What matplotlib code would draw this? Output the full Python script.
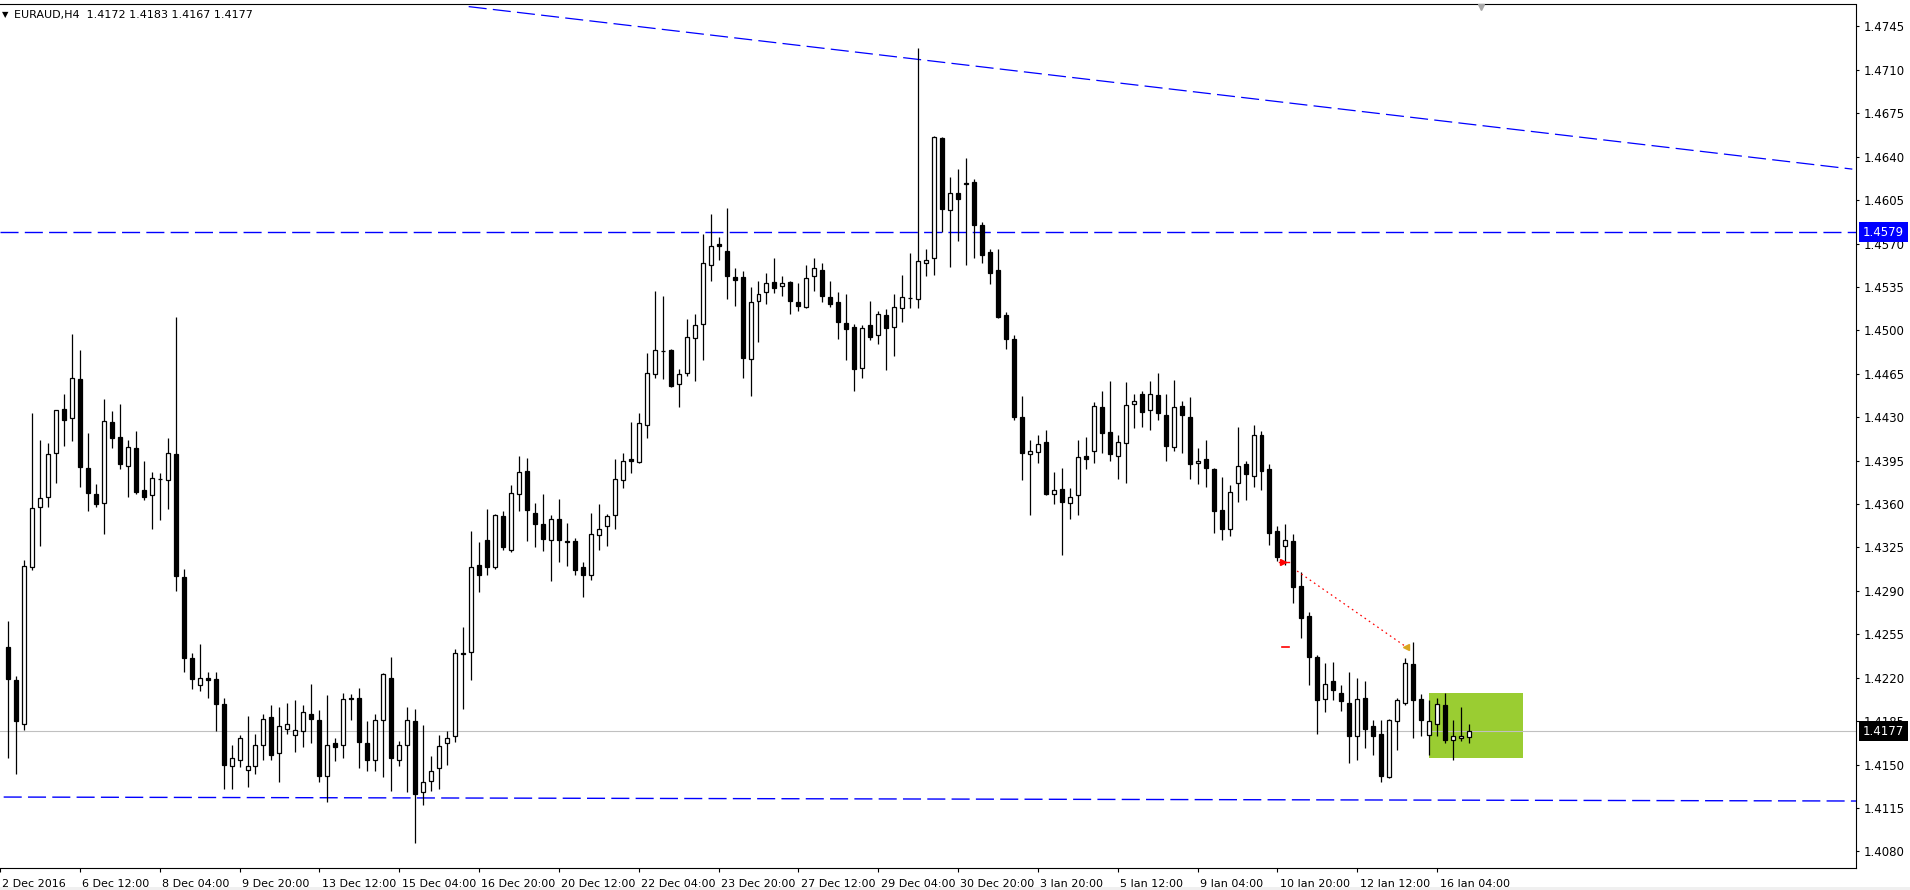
import numpy as np
import matplotlib
matplotlib.use("Agg")
import matplotlib.pyplot as plt
from matplotlib.patches import Rectangle

# EURAUD H4 candles (bar 0 = 5 Dec 00:00)
opens = [1.4245, 1.4218, 1.4183, 1.4309, 1.4358, 1.4366, 1.4401, 1.4437, 1.4429, 1.4461,
         1.4389, 1.4368, 1.4361, 1.4426, 1.4414, 1.4391, 1.4405, 1.4371, 1.4367, 1.4380,
         1.4379, 1.4400, 1.4301, 1.4236, 1.4214, 1.4220, 1.4219, 1.4199, 1.4149, 1.4154,
         1.4146, 1.4149, 1.4166, 1.4188, 1.4159, 1.4179, 1.4174, 1.4177, 1.4191, 1.4186,
         1.4141, 1.4167, 1.4166, 1.4204, 1.4204, 1.4167, 1.4154, 1.4186, 1.4220, 1.4154,
         1.4166, 1.4185, 1.4128, 1.4137, 1.4147, 1.4167, 1.4173, 1.4240, 1.4241, 1.4311,
         1.4331, 1.4309, 1.4350, 1.4323, 1.4368, 1.4387, 1.4353, 1.4344, 1.4331, 1.4348,
         1.4330, 1.4330, 1.4309, 1.4303, 1.4335, 1.4342, 1.4351, 1.4379, 1.4396, 1.4394,
         1.4424, 1.4465, 1.4483, 1.4484, 1.4457, 1.4466, 1.4494, 1.4505, 1.4553, 1.4570,
         1.4564, 1.4543, 1.4543, 1.4477, 1.4524, 1.4531, 1.4539, 1.4536, 1.4539, 1.4523,
         1.4519, 1.4544, 1.4549, 1.4527, 1.4523, 1.4506, 1.4503, 1.4470, 1.4504, 1.4496,
         1.4512, 1.4503, 1.4518, 1.4526, 1.4525, 1.4554, 1.4558, 1.4655, 1.4597, 1.4611,
         1.4619, 1.4620, 1.4585, 1.4563, 1.4549, 1.4512, 1.4493, 1.4430, 1.4400, 1.4402,
         1.4410, 1.4368, 1.4372, 1.4361, 1.4367, 1.4399, 1.4403, 1.4438, 1.4418, 1.4399,
         1.4409, 1.4441, 1.4449, 1.4436, 1.4448, 1.4432, 1.4406, 1.4439, 1.4430, 1.4393,
         1.4396, 1.4388, 1.4355, 1.4340, 1.4377, 1.4392, 1.4383, 1.4416, 1.4388, 1.4338,
         1.4326, 1.4330, 1.4294, 1.4270, 1.4237, 1.4203, 1.4217, 1.4208, 1.4200, 1.4173,
         1.4204, 1.4181, 1.4175, 1.4140, 1.4185, 1.4200, 1.4231, 1.4203, 1.4174, 1.4183,
         1.4198, 1.4170, 1.4171, 1.4172]
highs = [1.4266, 1.4221, 1.4315, 1.4433, 1.4412, 1.4409, 1.4436, 1.4449, 1.4497, 1.4484,
         1.4417, 1.4376, 1.4445, 1.4435, 1.4441, 1.4412, 1.4419, 1.4395, 1.4386, 1.4385,
         1.4413, 1.4511, 1.4308, 1.4240, 1.4247, 1.4225, 1.4225, 1.4204, 1.4166, 1.4174,
         1.4189, 1.4175, 1.4191, 1.4198, 1.4196, 1.4200, 1.4202, 1.4198, 1.4215, 1.4194,
         1.4206, 1.4171, 1.4208, 1.4207, 1.4212, 1.4185, 1.4191, 1.4224, 1.4237, 1.4169,
         1.4196, 1.4195, 1.4182, 1.4157, 1.4174, 1.4177, 1.4243, 1.4261, 1.4338, 1.4329,
         1.4356, 1.4352, 1.4354, 1.4375, 1.4399, 1.4397, 1.4361, 1.4368, 1.4351, 1.4364,
         1.4345, 1.4333, 1.4313, 1.4353, 1.4360, 1.4352, 1.4396, 1.4401, 1.4426, 1.4433,
         1.4482, 1.4532, 1.4528, 1.4485, 1.4469, 1.4509, 1.4513, 1.4578, 1.4594, 1.4575,
         1.4599, 1.4550, 1.4548, 1.4535, 1.4540, 1.4546, 1.4558, 1.4544, 1.4540, 1.4538,
         1.4553, 1.4558, 1.4554, 1.4540, 1.4531, 1.4529, 1.4505, 1.4504, 1.4524, 1.4516,
         1.4517, 1.4529, 1.4545, 1.4562, 1.4728, 1.4566, 1.4657, 1.4656, 1.4624, 1.4630,
         1.4639, 1.4622, 1.4587, 1.4566, 1.4566, 1.4515, 1.4496, 1.4447, 1.4412, 1.4416,
         1.4420, 1.4386, 1.4389, 1.4373, 1.4412, 1.4414, 1.4442, 1.4451, 1.4459, 1.4416,
         1.4458, 1.4449, 1.4451, 1.4459, 1.4466, 1.4449, 1.4460, 1.4443, 1.4446, 1.4405,
         1.4412, 1.4389, 1.4382, 1.4375, 1.4422, 1.4395, 1.4424, 1.4419, 1.4392, 1.4342,
         1.4344, 1.4336, 1.4305, 1.4273, 1.4238, 1.4232, 1.4233, 1.4214, 1.4225, 1.4220,
         1.4217, 1.4186, 1.4186, 1.4187, 1.4204, 1.4236, 1.4249, 1.4207, 1.4202, 1.4204,
         1.4208, 1.4186, 1.4196, 1.4183]
lows = [1.4155, 1.4142, 1.4178, 1.4307, 1.4326, 1.4358, 1.4377, 1.4407, 1.4411, 1.4374,
        1.4354, 1.4358, 1.4336, 1.4405, 1.4388, 1.4366, 1.4368, 1.4363, 1.4340, 1.4347,
        1.4356, 1.4290, 1.4225, 1.4211, 1.4209, 1.4204, 1.4177, 1.4130, 1.4130, 1.4148,
        1.4132, 1.4142, 1.4154, 1.4154, 1.4136, 1.4175, 1.4160, 1.4164, 1.4167, 1.4136,
        1.4120, 1.4153, 1.4155, 1.4186, 1.4147, 1.4145, 1.4145, 1.4140, 1.4129, 1.4149,
        1.4128, 1.4087, 1.4117, 1.4129, 1.4130, 1.4150, 1.4168, 1.4195, 1.4218, 1.4289,
        1.4303, 1.4308, 1.4323, 1.4321, 1.4354, 1.4330, 1.4325, 1.4322, 1.4298, 1.4313,
        1.4310, 1.4303, 1.4285, 1.4299, 1.4323, 1.4326, 1.4340, 1.4373, 1.4385, 1.4393,
        1.4413, 1.4462, 1.4461, 1.4454, 1.4438, 1.4463, 1.4459, 1.4476, 1.4540, 1.4557,
        1.4525, 1.4520, 1.4462, 1.4447, 1.4491, 1.4521, 1.4530, 1.4528, 1.4513, 1.4516,
        1.4518, 1.4532, 1.4523, 1.4519, 1.4493, 1.4476, 1.4451, 1.4462, 1.4492, 1.4489,
        1.4468, 1.4479, 1.4507, 1.4518, 1.4518, 1.4544, 1.4545, 1.4579, 1.4551, 1.4572,
        1.4553, 1.4558, 1.4554, 1.4537, 1.4510, 1.4485, 1.4428, 1.4379, 1.4351, 1.4393,
        1.4367, 1.4360, 1.4319, 1.4348, 1.4351, 1.4388, 1.4393, 1.4401, 1.4395, 1.4380,
        1.4377, 1.4421, 1.4422, 1.4420, 1.4428, 1.4395, 1.4403, 1.4401, 1.4380, 1.4376,
        1.4374, 1.4337, 1.4331, 1.4334, 1.4362, 1.4363, 1.4374, 1.4371, 1.4327, 1.4314,
        1.4311, 1.4280, 1.4252, 1.4214, 1.4175, 1.4192, 1.4202, 1.4193, 1.4151, 1.4154,
        1.4163, 1.4158, 1.4136, 1.4139, 1.4162, 1.4198, 1.4171, 1.4173, 1.4158, 1.4173,
        1.4167, 1.4154, 1.4169, 1.4167]
closes = [1.4219, 1.4185, 1.4310, 1.4357, 1.4365, 1.4400, 1.4436, 1.4428, 1.4462, 1.4390,
          1.4369, 1.4360, 1.4427, 1.4413, 1.4392, 1.4406, 1.4370, 1.4366, 1.4381, 1.4380,
          1.4401, 1.4302, 1.4236, 1.4219, 1.4220, 1.4218, 1.4199, 1.4150, 1.4155, 1.4171,
          1.4149, 1.4166, 1.4187, 1.4158, 1.4181, 1.4183, 1.4178, 1.4192, 1.4187, 1.4141,
          1.4166, 1.4164, 1.4203, 1.4203, 1.4168, 1.4154, 1.4186, 1.4223, 1.4155, 1.4166,
          1.4186, 1.4126, 1.4136, 1.4145, 1.4165, 1.4171, 1.4240, 1.4239, 1.4309, 1.4303,
          1.4309, 1.4351, 1.4325, 1.4369, 1.4386, 1.4355, 1.4344, 1.4332, 1.4348, 1.4331,
          1.4329, 1.4307, 1.4303, 1.4336, 1.4340, 1.4350, 1.4380, 1.4395, 1.4395, 1.4425,
          1.4466, 1.4484, 1.4483, 1.4455, 1.4465, 1.4495, 1.4504, 1.4554, 1.4568, 1.4568,
          1.4544, 1.4541, 1.4478, 1.4523, 1.4529, 1.4538, 1.4534, 1.4538, 1.4524, 1.4520,
          1.4542, 1.4550, 1.4528, 1.4521, 1.4507, 1.4501, 1.4469, 1.4502, 1.4495, 1.4513,
          1.4502, 1.4519, 1.4527, 1.4526, 1.4556, 1.4557, 1.4656, 1.4598, 1.4611, 1.4606,
          1.4618, 1.4585, 1.4561, 1.4546, 1.4511, 1.4493, 1.4430, 1.4401, 1.4403, 1.4408,
          1.4368, 1.4371, 1.4362, 1.4366, 1.4398, 1.4396, 1.4439, 1.4417, 1.4400, 1.4410,
          1.4440, 1.4443, 1.4434, 1.4449, 1.4433, 1.4407, 1.4438, 1.4432, 1.4392, 1.4395,
          1.4389, 1.4354, 1.4340, 1.4370, 1.4391, 1.4384, 1.4416, 1.4387, 1.4337, 1.4317,
          1.4331, 1.4293, 1.4268, 1.4237, 1.4202, 1.4215, 1.4210, 1.4201, 1.4173, 1.4203,
          1.4179, 1.4173, 1.4141, 1.4186, 1.4202, 1.4232, 1.4202, 1.4186, 1.4185, 1.4199,
          1.4170, 1.4173, 1.4173, 1.4177]

title_text = "EURAUD,H4  1.4172 1.4183 1.4167 1.4177"

# time axis labels (bar index -> label)
tick_bars = [-1, 9, 19, 29, 39, 49, 59, 69, 79, 89, 99, 109, 119, 129, 139, 149, 159, 169, 179]
tick_labels = ["2 Dec 2016", "6 Dec 12:00", "8 Dec 04:00", "9 Dec 20:00", "13 Dec 12:00",
               "15 Dec 04:00", "16 Dec 20:00", "20 Dec 12:00", "22 Dec 04:00", "23 Dec 20:00",
               "27 Dec 12:00", "29 Dec 04:00", "30 Dec 20:00", "3 Jan 20:00", "5 Jan 12:00",
               "9 Jan 04:00", "10 Jan 20:00", "12 Jan 12:00", "16 Jan 04:00"]

price_ticks = [1.4080, 1.4115, 1.4150, 1.4185, 1.4220, 1.4255, 1.4290, 1.4325, 1.4360, 1.4395,
               1.4430, 1.4465, 1.4500, 1.4535, 1.4570, 1.4605, 1.4640, 1.4675, 1.4710, 1.4745]

# drawn objects
resistance_level = 1.4579
last_price = 1.4177
support_x = [-0.54, 231.46]
support_y = [1.41238, 1.41206]
trend_x = [57.7, 231.0]
trend_y = [1.4761, 1.4630]
arrow_x = [161.46, 175.08]
arrow_y = [1.4306, 1.4245]
box_x = [178.0, 189.7]
box_y = [1.4155, 1.4208]

plt.rcParams['lines.scale_dashes'] = False
plt.rcParams['font.family'] = ['DejaVu Sans']

fig = plt.figure(figsize=(19.1, 8.9), dpi=100, facecolor='white')
ax = fig.add_axes([0, 22 / 890, 1856 / 1910, 863.5 / 890])
ax.set_xlim(-0.54, 231.46)
ax.set_ylim(1.40666, 1.47627)

x = np.arange(len(opens))
o = np.array(opens)
c = np.array(closes)

# green zone
ax.add_patch(Rectangle((box_x[0], box_y[0]), box_x[1] - box_x[0], box_y[1] - box_y[0],
                       facecolor='#9acd32', edgecolor='none', zorder=1))

# lines
blue_dash = (13, 4.5)
ax.axhline(resistance_level, color='#0000ff', lw=1.0, dashes=blue_dash, zorder=1.5)
ax.plot(support_x, support_y, color='#0000ff', lw=1.0, dashes=blue_dash, zorder=1.5)
ax.plot(trend_x, trend_y, color='#0000ff', lw=0.9, dashes=blue_dash, zorder=1.5)
ax.axhline(last_price, color='#c0c0c0', lw=0.8, zorder=1.2)

# candles
ax.vlines(x, lows, highs, color='black', lw=0.9, zorder=2)
bottoms = np.minimum(o, c)
heights = np.maximum(np.abs(c - o), 0.00002)
faces = ['white' if cl >= op else 'black' for op, cl in zip(o, c)]
ax.bar(x, heights, bottom=bottoms, width=0.5, color=faces, edgecolor='black',
       linewidth=0.9, zorder=3)

# trade arrows
ax.plot(arrow_x, arrow_y, color='red', lw=0.9, linestyle=(0, (1.2, 2.5)), zorder=4)
ax.plot([159.2, 160.4], [1.4313, 1.4313], color='red', lw=1.0, zorder=4)
ax.plot(159.7, 1.4313, marker='>', color='red', ms=4, zorder=4)
ax.plot([159.6, 160.4], [1.4245, 1.4245], color='red', lw=1.2, zorder=4)
ax.plot(175.1, 1.4245, marker='<', color='#daa520', ms=4.5, zorder=4)

# chart shift marker
ax.plot(184.5, 1.4761, marker='v', color='#a8a8a8', ms=5, clip_on=False, zorder=5)

# frame
for side in ['top', 'right', 'bottom']:
    ax.spines[side].set_color('black')
    ax.spines[side].set_linewidth(0.8)
ax.spines['left'].set_visible(False)

# price axis on the right
ax.yaxis.tick_right()
ax.set_yticks(price_ticks)
ax.set_yticklabels(["%.4f" % p for p in price_ticks])
ax.tick_params(axis='y', direction='out', length=2.5, width=0.8, pad=3, labelsize=8.5,
               colors='black')

# time axis
ax.set_xticks(tick_bars)
ax.set_xticklabels([])
ax.tick_params(axis='x', direction='out', length=3, width=0.8)
xform = ax.get_xaxis_transform()
for b, lab in zip(tick_bars, tick_labels):
    ax.text(b + 0.3, -0.019, lab, transform=xform, ha='left', va='center',
            fontsize=8, color='black', clip_on=False)

# price boxes
yform = ax.get_yaxis_transform()
ax.text(1863 / 1856, resistance_level, "%.4f" % resistance_level, transform=yform,
        ha='left', va='center', fontsize=8.5, color='white', zorder=10, clip_on=False,
        bbox=dict(boxstyle='square,pad=0.3', fc='#0000ff', ec='none'))
ax.text(1863 / 1856, last_price, "%.4f" % last_price, transform=yform,
        ha='left', va='center', fontsize=8.5, color='white', zorder=10, clip_on=False,
        bbox=dict(boxstyle='square,pad=0.3', fc='black', ec='none'))

# title
fig.text(2 / 1910, 1 - 15 / 890, u"\u25bc", fontsize=6, va='center', ha='left')
fig.text(14 / 1910, 1 - 15 / 890, title_text, fontsize=8, va='center', ha='left')

fig.patches.append(Rectangle((0, 0), 1, 3 / 890, transform=fig.transFigure,
                             facecolor='#f0f0f0', edgecolor='none'))

fig.savefig("out.png", dpi=100, facecolor='white')
